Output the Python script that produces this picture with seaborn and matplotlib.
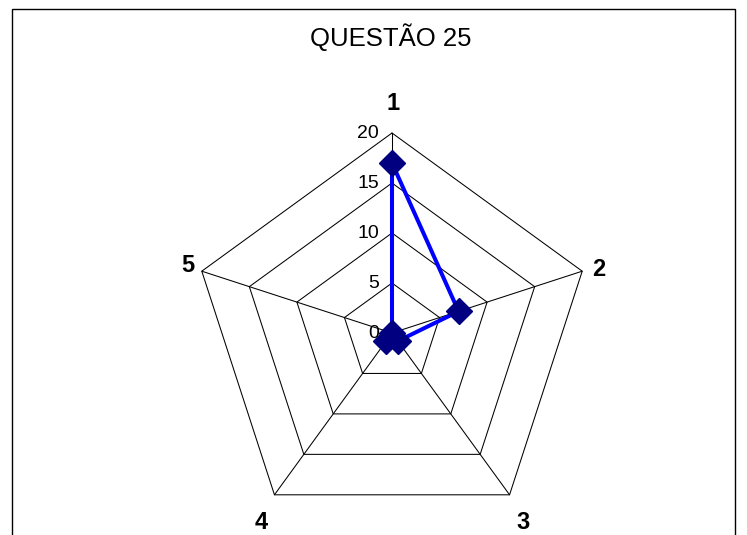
import numpy as np
import pandas as pd
import matplotlib
matplotlib.use("Agg")
import matplotlib.pyplot as plt
import seaborn as sns
from matplotlib.patches import Rectangle

# ---- data ----
categories = ["1", "2", "3", "4", "5"]
values = [17, 7, 1, 1, 0]
tick_levels = [0, 5, 10, 15, 20]
title = "QUESTÃO 25"

sns.set_theme(style="white")
plt.rcParams["font.family"] = ["Liberation Sans", "DejaVu Sans"]

W, H, DPI = 747, 535, 100
fig = plt.figure(figsize=(W / DPI, H / DPI), dpi=DPI)
fig.patch.set_facecolor("white")

cx, cy, R = 392, 333, 200
ax = fig.add_axes([(cx - R) / W, (H - cy - R) / H, 2 * R / W, 2 * R / H], projection="polar")
ax.set_theta_zero_location("N")
ax.set_theta_direction(-1)
ax.set_ylim(0, tick_levels[-1])
ax.grid(False)
ax.spines["polar"].set_visible(False)
ax.set_xticks([])
ax.set_yticks([])
ax.patch.set_alpha(0)

n = len(categories)
theta = np.linspace(0, 2 * np.pi, n, endpoint=False)
theta_closed = np.append(theta, 2 * np.pi)

# polygon grid
for lv in tick_levels[1:]:
    ax.plot(theta_closed, [lv] * (n + 1), color="black", lw=0.75, clip_on=False, zorder=1)
for t in theta:
    ax.plot([t, t], [0, tick_levels[-1]], color="black", lw=0.75, clip_on=False, zorder=1)

# data
df = pd.DataFrame({"theta": theta_closed, "value": values + values[:1]})
sns.lineplot(data=df, x="theta", y="value", sort=False, estimator=None, ax=ax,
             color="#0000FF", lw=2.9, zorder=3, clip_on=False)
ax.plot(theta, values, linestyle="none", marker="D", markersize=13.5,
        color="#000080", zorder=4, clip_on=False)
ax.set_xlabel("")
ax.set_ylabel("")

# radial tick labels
for lv in tick_levels:
    ax.annotate(str(lv), xy=(0, lv), xytext=(-9.5, 0), textcoords="offset points",
                ha="right", va="center", fontsize=14, color="black", zorder=5)

# category labels (pixel offsets -> points)
offsets_px = [(1, 29), (17, 2), (13, -28), (-13, -28), (-14, 6)]
for t, lab, (ox, oy) in zip(theta, categories, offsets_px):
    ax.annotate(lab, xy=(t, tick_levels[-1]), xytext=(ox * 0.72, oy * 0.72),
                textcoords="offset points", ha="center", va="center",
                fontsize=17, fontweight="bold", color="black", annotation_clip=False)

fig.text(391 / W, 1 - 37 / H, title, ha="center", va="center", fontsize=18.5, color="black")

# outer frame
fig.patches.append(Rectangle((12 / W, -0.05), (735 - 12) / W, 1.05 - 9 / H,
                             transform=fig.transFigure, fill=False, edgecolor="black",
                             lw=1.0, figure=fig))

fig.savefig("out.png", dpi=DPI)
